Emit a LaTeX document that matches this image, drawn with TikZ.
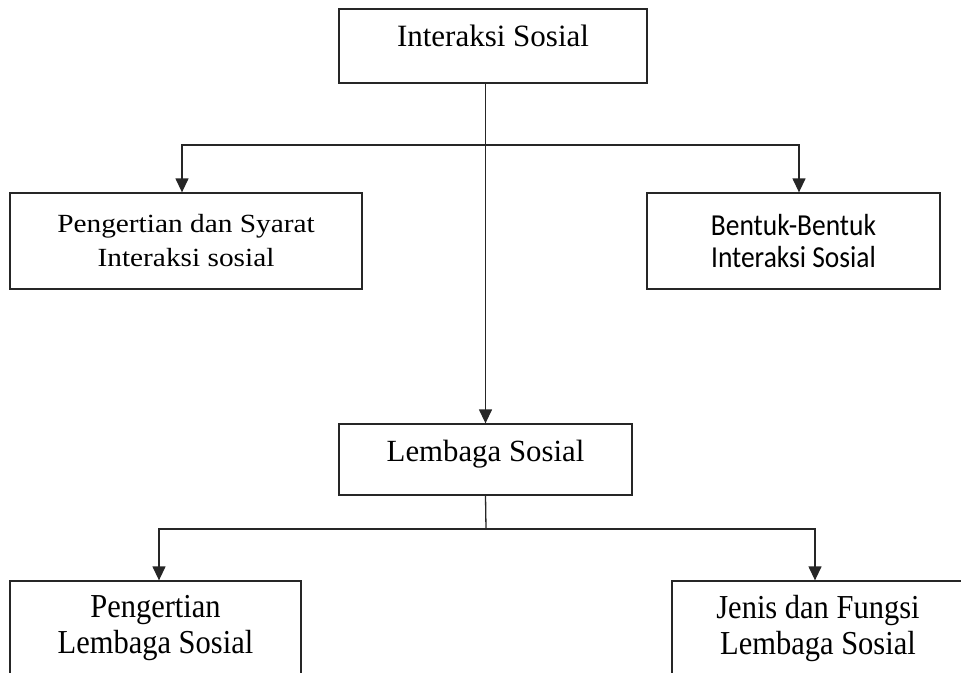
\documentclass[tikz,border=0pt]{standalone}
\usepackage{fontspec}
\setmainfont{Liberation Serif}
\newfontfamily\wideserif[FakeStretch=1.12]{Liberation Serif}
\newfontfamily\narrowserif[FakeStretch=0.91]{Liberation Serif}
\newfontfamily\boxsans[FakeStretch=0.9]{Carlito}
\usetikzlibrary{arrows.meta}
\begin{document}
\begin{tikzpicture}[x=1pt, y=-1pt, line width=1.3pt, draw=black!85,
  box/.style={draw, rectangle, align=center, inner sep=0pt, font=\fontsize{31}{34}\selectfont},
  oneline/.style={text height=20.6pt, text depth=#1},
  arr/.style={-{Triangle[length=14pt, width=13pt]}}]
\useasboundingbox (0,0) rectangle (961,672);
\node[box, oneline=19pt, minimum width=308pt, minimum height=74pt] (inter) at (493,46){Interaksi Sosial};
\node[box, minimum width=352pt, minimum height=96pt, font=\wideserif\fontsize{26.2}{34}\selectfont] (syarat) at (186,241){Pengertian dan Syarat\\Interaksi sosial};
\node[box, minimum width=293pt, minimum height=96pt, font=\boxsans\fontsize{30.5}{32}\selectfont] (bentuk) at (793.5,241){Bentuk-Bentuk\\Interaksi Sosial};
\node[box, oneline=17.5pt, minimum width=293pt, minimum height=71pt, font=\fontsize{30.8}{34}\selectfont] (lembaga) at (485.5,459.5){Lembaga Sosial};
\node[box, minimum width=291pt, minimum height=95pt, font=\narrowserif\fontsize{33.5}{36}\selectfont] (plembaga) at (155.5,628.5){Pengertian\\Lembaga Sosial};
\node[box, minimum width=292pt, minimum height=95pt, font=\narrowserif\fontsize{33.5}{36}\selectfont] (jenis) at (818,628.5){Jenis dan Fungsi\\Lembaga Sosial};
\coordinate (split1) at (486,145);
\coordinate (split2) at (486,529);
% interaksi sosial
\draw[arr](inter.south -| lembaga.north) -- (lembaga.north);
\draw[arr](split1) -| ([xshift=-4pt]syarat.north);
\draw[arr](split1) -| ([xshift=5.5pt]bentuk.north);
% lembaga sosial
\draw[](lembaga.south) -- (split2);
\draw[arr](split2) -| ([xshift=3.5pt]plembaga.north);
\draw[arr](split2) -| ([xshift=-3pt]jenis.north);
\end{tikzpicture}
\end{document}
